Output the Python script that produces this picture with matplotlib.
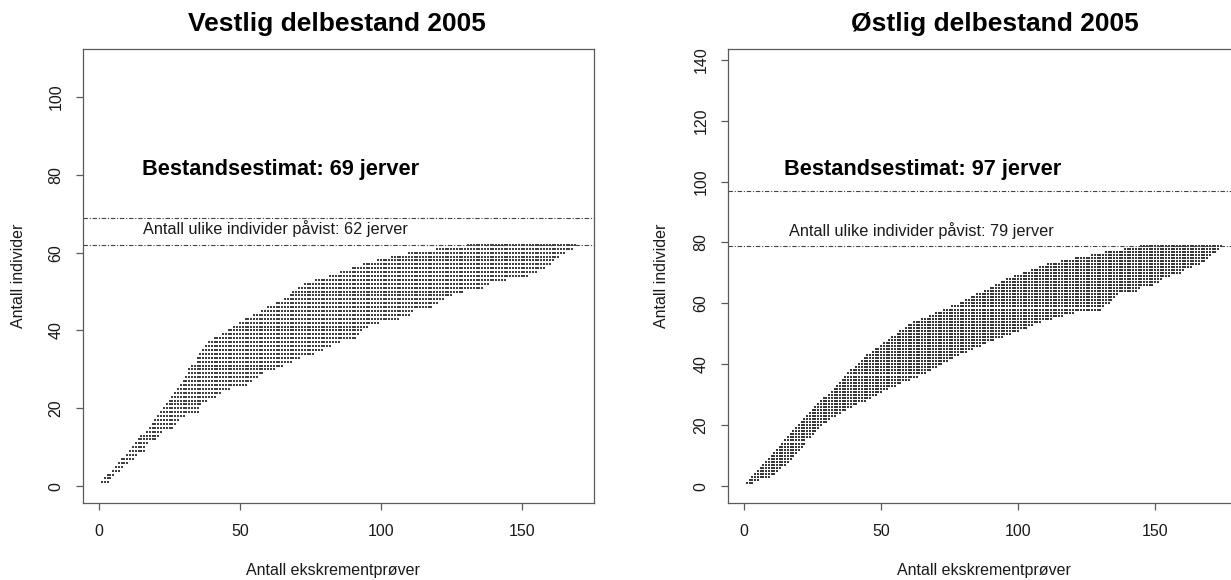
import matplotlib
matplotlib.use('Agg')
import matplotlib.pyplot as plt

plt.rcParams['font.family'] = ['Liberation Sans', 'DejaVu Sans']

# ---------------- data ----------------
# For every number of individuals (y level, 1..N) the first and last
# number of scat samples (x) at which that level occurs in the band.
west_levels = list(range(1, 63))
west_first = [1, 2, 3, 5, 6, 7, 8, 10, 11, 12,
              13, 14, 15, 17, 18, 19, 20, 21, 22, 23,
              24, 25, 26, 27, 28, 29, 30, 31, 32, 32,
              33, 35, 35, 36, 37, 38, 39, 41, 44, 46,
              48, 50, 52, 55, 58, 60, 63, 66, 68, 69,
              71, 73, 77, 82, 86, 90, 94, 99, 104, 110,
              120, 131]
west_last = [3, 4, 5, 7, 8, 10, 12, 13, 16, 16,
             17, 20, 21, 22, 26, 27, 28, 30, 35, 35,
             36, 38, 41, 43, 46, 52, 54, 56, 58, 62,
             65, 68, 71, 76, 79, 82, 85, 91, 92, 93,
             95, 99, 106, 110, 111, 118, 120, 122, 125, 129,
             136, 138, 144, 152, 155, 158, 160, 161, 163, 165,
             168, 169]

east_levels = list(range(1, 80))
east_first = [1, 2, 3, 4, 5, 6, 7, 8, 9, 10,
              11, 12, 13, 14, 15, 16, 17, 18, 19, 20,
              21, 22, 23, 24, 25, 26, 27, 28, 29, 31,
              32, 33, 34, 35, 36, 37, 38, 39, 41, 42,
              43, 44, 45, 47, 48, 50, 51, 53, 54, 56,
              57, 59, 60, 62, 65, 68, 70, 73, 76, 79,
              81, 83, 85, 88, 90, 92, 94, 96, 99, 102,
              105, 108, 111, 116, 121, 127, 132, 139, 145]
east_last = [3, 5, 9, 11, 12, 13, 15, 16, 17, 18,
             19, 20, 21, 22, 22, 24, 25, 26, 27, 28,
             30, 31, 33, 35, 37, 39, 41, 44, 46, 48,
             50, 52, 55, 57, 60, 63, 66, 68, 70, 72,
             74, 76, 78, 81, 83, 86, 88, 91, 94, 97,
             100, 103, 105, 108, 112, 116, 120, 130, 131, 133,
             134, 135, 136, 143, 144, 149, 151, 152, 155, 159,
             160, 163, 166, 168, 169, 170, 172, 173, 174]

west_estimate = 69
west_observed = 62
east_estimate = 97
east_observed = 79

titles = ['Vestlig delbestand 2005', 'Østlig delbestand 2005']
xticks = [0, 50, 100, 150]
west_yticks = [0, 20, 40, 60, 80, 100]
east_yticks = [0, 20, 40, 60, 80, 100, 120, 140]
xlabel = 'Antall ekskrementprøver'
ylabel = 'Antall individer'

# ---------------- figure ----------------
W, H = 1231, 580
fig = plt.figure(figsize=(W / 100, H / 100), dpi=100)


def px_axes(l, r, t, b):
    return [l / W, 1 - b / H, (r - l) / W, (b - t) / H]


def band(levels, first, last):
    xs, ys = [], []
    for y, a, b in zip(levels, first, last):
        for x in range(a, b + 1):
            xs.append(x)
            ys.append(y)
    return xs, ys


axL = fig.add_axes(px_axes(83, 594, 49, 503))
axR = fig.add_axes(px_axes(728, 1237, 49, 503))

AX_COL = '#5a5a5a'
TXT_COL = '#1a1a1a'
DASH = (4, 1.6, 1, 1.6)

panels = [
    (axL, west_levels, west_first, west_last, west_estimate, west_observed,
     west_yticks, (-5.72, 175.72), (-4.32, 112.32), '#404040'),
    (axR, east_levels, east_first, east_last, east_estimate, east_observed,
     east_yticks, (-5.88, 179.88), (-5.52, 143.52), '#383838'),
]

for ax, lv, fi, la, est, obs, yt, xl, yl, mc in panels:
    xs, ys = band(lv, fi, la)
    ax.scatter(xs, ys, marker='s', s=1.3, c=mc, linewidths=0)
    ax.axhline(est, color='#444444', lw=0.8, dashes=DASH)
    ax.axhline(obs, color='#444444', lw=0.8, dashes=DASH)
    ax.set_xlim(*xl)
    ax.set_ylim(*yl)
    ax.set_xticks(xticks)
    ax.set_yticks(yt)
    for s in ax.spines.values():
        s.set_color(AX_COL)
        s.set_linewidth(0.9)
    ax.tick_params(direction='out', length=5, width=0.9, color=AX_COL,
                   labelsize=11.5, labelcolor=TXT_COL)
    ax.tick_params(axis='x', pad=10)
    ax.tick_params(axis='y', pad=9, labelrotation=90)
    for lab in ax.get_yticklabels():
        lab.set_va('center')

axL.text(15.3, 80, f'Bestandsestimat: {west_estimate} jerver', fontsize=15.7,
         fontweight='bold', ha='left', va='baseline', color='black')
axL.text(15.7, 64.7, f'Antall ulike individer påvist: {west_observed} jerver',
         fontsize=11.7, ha='left', va='baseline', color=TXT_COL)
axR.text(14.6, 102, f'Bestandsestimat: {east_estimate} jerver', fontsize=15.7,
         fontweight='bold', ha='left', va='baseline', color='black')
axR.text(16.5, 82.1, f'Antall ulike individer påvist: {east_observed} jerver',
         fontsize=11.7, ha='left', va='baseline', color=TXT_COL)

fig.text(337 / W, 1 - 31 / H, titles[0], fontsize=19, fontweight='bold',
         ha='center', va='baseline')
fig.text(995 / W, 1 - 31 / H, titles[1], fontsize=19, fontweight='bold',
         ha='center', va='baseline')

fig.text(19 / W, 1 - 276 / H, ylabel, rotation=90, ha='center', va='center',
         fontsize=11.5, color=TXT_COL)
fig.text(662 / W, 1 - 276 / H, ylabel, rotation=90, ha='center', va='center',
         fontsize=11.5, color=TXT_COL)
fig.text(333 / W, 1 - 571 / H, xlabel, ha='center', va='center',
         fontsize=11.5, color=TXT_COL)
fig.text(984 / W, 1 - 571 / H, xlabel, ha='center', va='center',
         fontsize=11.5, color=TXT_COL)

fig.savefig('out.png', dpi=100)
